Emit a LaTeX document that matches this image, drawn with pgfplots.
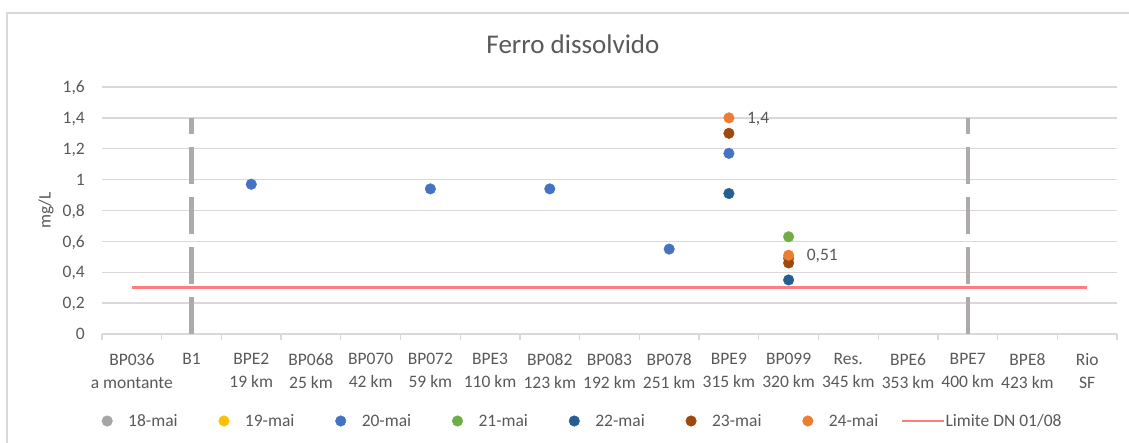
\documentclass[border=0pt]{standalone}
\usepackage{fontspec}
\setmainfont{Carlito}
\usepackage{pgfplots}
\pgfplotsset{compat=1.18}
\definecolor{txt}{HTML}{595959}
\definecolor{gridc}{HTML}{D9D9D9}
\definecolor{dashc}{HTML}{AEAAAA}
\definecolor{c18}{HTML}{A5A5A5}
\definecolor{c19}{HTML}{FFC000}
\definecolor{c20}{HTML}{4472C4}
\definecolor{c21}{HTML}{70AD47}
\definecolor{c22}{HTML}{255E91}
\definecolor{c23}{HTML}{9E480E}
\definecolor{c24}{HTML}{ED7D31}
\definecolor{limc}{HTML}{FF7C80}
\pgfplotsset{
  dotlegend/.style={legend image code/.code={\path[draw=none,fill=none] (0pt,-5.3pt) rectangle (10.6pt,5.3pt); \draw[##1] plot coordinates {(5.3pt,0pt)};}},
  linelegend/.style={legend image code/.code={\path[draw=none,fill=none] (0pt,-5.3pt) rectangle (10.6pt,5.3pt); \draw[##1,overlay] (-17pt,0pt) -- (25pt,0pt);}},
  dot/.style={only marks, mark=*, mark size=5.3pt, color=#1, mark options={draw=#1, fill=#1}, dotlegend}
}
\newcommand{\tf}{\fontsize{17.5}{23}\selectfont}
\begin{document}
\begin{tikzpicture}[x=1pt,y=1pt]
\useasboundingbox (0,0) rectangle (1129,443);
\draw[gridc, line width=1.3pt] (7,-20) -- (7,430) -- (1150,430);
\begin{axis}[
  at={(102pt,109pt)}, anchor=south west, scale only axis,
  width=1015pt, height=247pt,
  xmin=-0.5, xmax=16.5, ymin=0, ymax=1.6,
  xtick={0,1,2,3,4,5,6,7,8,9,10,11,12,13,14,15,16},
  xticklabels={{BP036\\a montante},{B1},{BPE2\\19 km},{BP068\\25 km},{BP070\\42 km},{BP072\\59 km},{BPE3\\110 km},{BP082\\123 km},{BP083\\192 km},{BP078\\251 km},{BPE9\\315 km},{BP099\\320 km},{Res.\\345 km},{BPE6\\353 km},{BPE7\\400 km},{BPE8\\423 km},{Rio\\SF}},
  minor xtick={-0.5,0.5,1.5,2.5,3.5,4.5,5.5,6.5,7.5,8.5,9.5,10.5,11.5,12.5,13.5,14.5,15.5,16.5},
  ytick={0,0.2,0.4,0.6,0.8,1,1.2,1.4,1.6},
  yticklabels={0,{0,2},{0,4},{0,6},{0,8},1,{1,2},{1,4},{1,6}},
  ymajorgrids, grid style={gridc, line width=1.3pt},
  axis x line*=bottom, axis y line*=left,
  x axis line style={gridc, line width=1.3pt, -},
  y axis line style={draw=none},
  major tick length=0pt, minor tick length=6pt, tick align=outside,
  minor tick style={gridc, line width=1.3pt},
  major tick style={draw=none},
  ticklabel style={font=\tf, text=txt},
  xticklabel style={align=center, inner sep=0pt, anchor=north, yshift=-19pt},
  yticklabel style={anchor=east, inner sep=0pt, text depth=0pt, xshift=-17pt},
  ylabel={mg/L},
  ylabel style={at={(axis description cs:-0.0552,0.5)}, anchor=center, inner sep=0pt, font=\tf, text=txt},
  title={Ferro dissolvido},
  title style={at={(axis description cs:0.464,1.1296)}, anchor=base, yshift=-5pt, inner sep=0pt, font=\fontsize{27}{30}\selectfont, text=txt},
  legend columns=8, legend cell align=left,
  legend style={draw=none, fill=none, inner sep=0pt, at={(axis description cs:0,0)}, anchor=west, xshift=-0.3pt, yshift=-87pt,
    font=\tf, text=txt, nodes={inner sep=0pt},
    /tikz/every odd column/.append style={column sep=15.7pt},
    /tikz/every even column/.append style={column sep=41pt}},
]
\addplot[forget plot, color=dashc, line width=4.3pt, dash pattern=on 37pt off 13pt] coordinates {(1,0) (1,1.4)};
\addplot[forget plot, color=dashc, line width=4.3pt, dash pattern=on 37pt off 13pt] coordinates {(14,0) (14,1.4)};
\addlegendimage{dot=c18}
\addlegendentry{18-mai}
\addlegendimage{dot=c19}
\addlegendentry{19-mai}
\addplot[dot=c20] coordinates {(2,0.97) (5,0.94) (7,0.94) (9,0.55) (10,1.17) (11,0.49)};
\addlegendentry{20-mai}
\addplot[dot=c21] coordinates {(11,0.63)};
\addlegendentry{21-mai}
\addplot[dot=c22] coordinates {(10,0.91) (11,0.35)};
\addlegendentry{22-mai}
\addplot[dot=c23] coordinates {(10,1.30) (11,0.46)};
\addlegendentry{23-mai}
\addplot[dot=c24, nodes near coords, point meta=explicit symbolic,
  nodes near coords style={anchor=west, xshift=18pt, yshift=0pt, inner sep=0pt, text depth=0pt, text=txt, font=\tf}]
  coordinates {(10,1.4) [1,4] (11,0.51) [0,51]};
\addlegendentry{24-mai}
\addplot[color=limc, line width=2.8pt, linelegend] coordinates {(0,0.3) (16,0.3)};
\addlegendentry{Limite DN 01/08}
\end{axis}
\end{tikzpicture}
\end{document}
